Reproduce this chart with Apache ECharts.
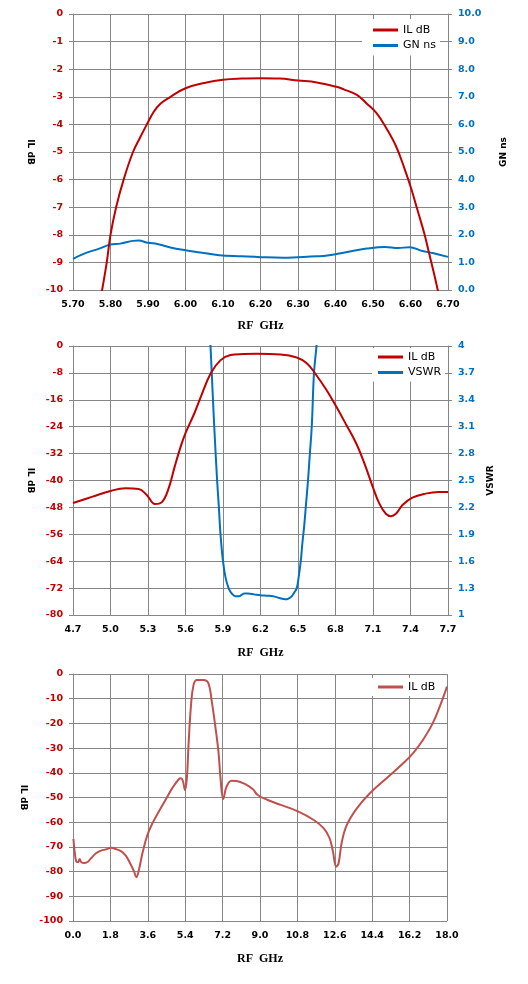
<!DOCTYPE html>
<html>
<head>
<meta charset="utf-8">
<script src="https://cdn.jsdelivr.net/npm/echarts@6/dist/echarts.min.js"></script>
<style>
html, body { margin: 0; padding: 0; background: #fff; }
#charts { width: 528px; height: 984px; }
</style>
</head>
<body>
<div id="charts"></div>
<script>
// chart 1 : passband, IL and group delay
var il1Freq = [5.775, 5.79, 5.80, 5.815, 5.835, 5.86, 5.878, 5.897, 5.915, 5.933, 5.96, 6.00, 6.05, 6.10, 6.15, 6.20, 6.25, 6.30, 6.35, 6.40, 6.422, 6.457, 6.483, 6.51, 6.536, 6.562, 6.584, 6.602, 6.619, 6.637, 6.65, 6.663, 6.676];
var il1Val = [-10.2, -9, -8, -7, -6, -5, -4.5, -4, -3.55, -3.25, -3, -2.69, -2.5, -2.38, -2.34, -2.33, -2.34, -2.41, -2.48, -2.63, -2.73, -2.93, -3.24, -3.6, -4.15, -4.81, -5.6, -6.33, -7.12, -7.96, -8.69, -9.42, -10.2];
var gnFreq = [5.70, 5.73, 5.77, 5.80, 5.826, 5.86, 5.875, 5.90, 5.925, 5.96, 6.00, 6.04, 6.09, 6.15, 6.20, 6.26, 6.30, 6.35, 6.378, 6.431, 6.483, 6.532, 6.567, 6.597, 6.632, 6.659, 6.70];
var gnVal = [1.13, 1.32, 1.5, 1.65, 1.68, 1.78, 1.79, 1.71, 1.67, 1.54, 1.44, 1.36, 1.26, 1.22, 1.19, 1.17, 1.19, 1.22, 1.25, 1.38, 1.5, 1.56, 1.52, 1.55, 1.41, 1.34, 1.2];

// chart 2 : IL and VSWR
var il2Freq = [4.7, 4.857, 5.0, 5.12, 5.225, 5.29, 5.356, 5.409, 5.461, 5.514, 5.566, 5.6, 5.671, 5.724, 5.802, 5.881, 5.96, 6.065, 6.17, 6.36, 6.49, 6.57, 6.636, 6.728, 6.807, 6.887, 6.966, 7.032, 7.098, 7.15, 7.203, 7.243, 7.283, 7.336, 7.415, 7.52, 7.626, 7.7];
var il2Val = [-46.7, -44.8, -43.1, -42.3, -42.5, -44.3, -47.0, -46.5, -42.8, -35.8, -29.4, -25.9, -20, -15, -8.1, -4.2, -2.7, -2.4, -2.3, -2.5, -3.4, -5.1, -8.1, -13.1, -18.1, -23.5, -29, -35, -41.9, -46.8, -49.9, -50.6, -49.9, -47.3, -45.1, -43.9, -43.4, -43.4];
var vswrFreq = [5.79, 5.80, 5.81, 5.83, 5.853, 5.867, 5.88, 5.90, 5.92, 5.945, 5.97, 6.0, 6.03, 6.07, 6.10, 6.15, 6.20, 6.25, 6.30, 6.35, 6.40, 6.42, 6.45, 6.47, 6.49, 6.505, 6.522, 6.535, 6.55, 6.565, 6.58, 6.595, 6.61, 6.628, 6.648, 6.66];
var vswrVal = [4.3, 4.0, 3.7, 3.1, 2.5, 2.2, 1.9, 1.6, 1.42, 1.3, 1.24, 1.21, 1.21, 1.24, 1.24, 1.23, 1.22, 1.215, 1.21, 1.19, 1.175, 1.18, 1.21, 1.25, 1.3, 1.42, 1.6, 1.8, 2.0, 2.25, 2.5, 2.8, 3.1, 3.7, 4.0, 4.25];

// chart 3 : wideband IL
var il3Freq = [0.02, 0.08, 0.16, 0.24, 0.32, 0.4, 0.56, 0.72, 0.87, 1.11, 1.35, 1.59, 1.83, 2.07, 2.31, 2.54, 2.78, 2.94, 3.05, 3.18, 3.34, 3.58, 3.82, 4.13, 4.45, 4.77, 5.09, 5.2, 5.29, 5.39, 5.48, 5.56, 5.68, 5.8, 5.96, 6.28, 6.52, 6.68, 6.84, 7.0, 7.1, 7.23, 7.39, 7.63, 7.87, 8.27, 8.66, 8.89, 9.37, 10.0, 10.8, 11.59, 12.07, 12.35, 12.51, 12.67, 12.78, 12.94, 13.18, 13.66, 14.29, 15.09, 15.88, 16.36, 16.84, 17.31, 17.71, 18.0];
var il3Val = [-66.8, -71.9, -76, -76.2, -74.9, -76.2, -76.5, -76, -74.6, -72.6, -71.5, -71, -70.3, -70.9, -71.7, -73.5, -77.1, -80, -82.3, -79, -72.6, -65.2, -60.5, -55.7, -51, -46.3, -42.6, -42.2, -43.3, -47, -42.2, -28.7, -12.6, -4.5, -2.4, -2.4, -3.8, -11.2, -20.6, -31.4, -42.2, -50.6, -45.6, -43.2, -43.3, -44.5, -46.7, -49, -51, -53, -55.5, -59.1, -62.5, -66.5, -71.9, -78, -76.7, -67.9, -61.1, -54.4, -48.3, -42.2, -36.2, -32.1, -26.7, -20, -11.9, -5.1];

var GRID = '#868686';
var RED = '#c00000';
var BLUE = '#0070c0';
var RED3 = '#c0504d';

function pairs(xs, ys) {
    var out = [];
    for (var i = 0; i < xs.length; i++) {
        out.push([xs[i], ys[i]]);
    }
    return out;
}

function tickLabel(color, fmt) {
    return {
        color: color, fontFamily: 'DejaVu Sans', fontWeight: 'bold', fontSize: 9.5,
        margin: 10, formatter: fmt
    };
}

// axis that draws the grid, ticks and labels
function shownX(grid, min, max, interval, gap, fmt) {
    return {
        type: 'value', gridIndex: grid, min: min, max: max, interval: interval,
        name: 'RF  GHz', nameLocation: 'middle', nameGap: gap,
        nameTextStyle: { fontFamily: 'Liberation Serif', fontWeight: 'bold', fontSize: 12, color: '#000' },
        axisLine: { show: true, lineStyle: { color: GRID } },
        axisTick: { show: true, length: 4, lineStyle: { color: GRID } },
        splitLine: { show: true, lineStyle: { color: GRID, width: 1 } },
        axisLabel: tickLabel('#000', fmt)
    };
}

// axis that only carries the data
function hiddenAxis(grid, min, max) {
    return { type: 'value', gridIndex: grid, min: min, max: max, show: false };
}

function shownY(grid, pos, min, max, interval, name, gap, rot, color, fmt, split) {
    return {
        type: 'value', gridIndex: grid, position: pos, min: min, max: max, interval: interval,
        name: name, nameLocation: 'middle', nameGap: gap, nameRotate: rot,
        nameTextStyle: { fontFamily: 'DejaVu Sans', fontWeight: 'bold', fontSize: 9, color: '#000' },
        axisLine: { show: true, lineStyle: { color: GRID } },
        axisTick: { show: true, length: 4, lineStyle: { color: GRID } },
        splitLine: { show: split, lineStyle: { color: GRID, width: 1 } },
        axisLabel: tickLabel(color, fmt)
    };
}

function lineSeries(name, xi, yi, data, color) {
    return {
        name: name, type: 'line', xAxisIndex: xi, yAxisIndex: yi, data: data,
        symbol: 'none', smooth: 0.4, clip: true,
        lineStyle: { color: color, width: 2 }, itemStyle: { color: color }
    };
}

function legendBox(left, top, padding, items) {
    return {
        orient: 'vertical', left: left, top: top, padding: padding,
        backgroundColor: '#fff', icon: 'rect', itemWidth: 25, itemHeight: 3, itemGap: 1.5,
        textStyle: { fontFamily: 'DejaVu Sans', fontSize: 11, color: '#000', lineHeight: 14 },
        selectedMode: false,
        data: items
    };
}

var myChart = echarts.init(document.getElementById('charts'), null, { renderer: 'canvas' });

option = {
    animation: false,
    backgroundColor: '#fff',
    grid: [
        { left: 73, right: 80, top: 14, height: 276 },
        { left: 73, right: 80, top: 346, height: 269 },
        { left: 73, right: 81, top: 674, height: 247 }
    ],
    xAxis: [
        shownX(0, 57, 67, 1, 30, function (v) { return (v / 10).toFixed(2); }),
        hiddenAxis(0, 5.7, 6.7),
        shownX(1, 0, 30, 3, 32, function (v) { return ((47 + v) / 10).toFixed(1); }),
        hiddenAxis(1, 4.7, 7.7),
        shownX(2, 0, 18, 1.8, 32, function (v) { return v.toFixed(1); })
    ],
    yAxis: [
        shownY(0, 'left', -10, 0, 1, 'IL dB', 38, -90, RED, null, true),
        shownY(0, 'right', 0, 10, 1, 'GN ns', 51, 90, BLUE, function (v) { return v.toFixed(1); }, false),
        shownY(1, 'left', -80, 0, 8, 'IL dB', 37, -90, RED, null, true),
        shownY(1, 'right', 0, 10, 1, 'VSWR', 38, 90, BLUE, function (v) { return String(+(1 + 0.3 * v).toFixed(1)); }, false),
        hiddenAxis(1, 1, 4),
        shownY(2, 'left', -100, 0, 10, 'IL dB', 44, -90, RED, null, true)
    ],
    legend: [
        legendBox(362, 19, [4, 4, 3, 11], [
            { name: 'IL dB', itemStyle: { color: RED } },
            { name: 'GN ns', itemStyle: { color: BLUE } }
        ]),
        legendBox(372, 348, [2, 4, 2, 6], [
            { name: 'IL dB', itemStyle: { color: RED } },
            { name: 'VSWR', itemStyle: { color: BLUE } }
        ]),
        legendBox(372, 678, [2, 4, 2, 6], [
            { name: 'IL dB', itemStyle: { color: RED3 } }
        ])
    ],
    series: [
        lineSeries('GN ns', 1, 1, pairs(gnFreq, gnVal), BLUE),
        lineSeries('IL dB', 1, 0, pairs(il1Freq, il1Val), RED),
        lineSeries('VSWR', 3, 4, pairs(vswrFreq, vswrVal), BLUE),
        lineSeries('IL dB', 3, 2, pairs(il2Freq, il2Val), RED),
        lineSeries('IL dB', 4, 5, pairs(il3Freq, il3Val), RED3)
    ]
};

myChart.setOption(option);
</script>
</body>
</html>
